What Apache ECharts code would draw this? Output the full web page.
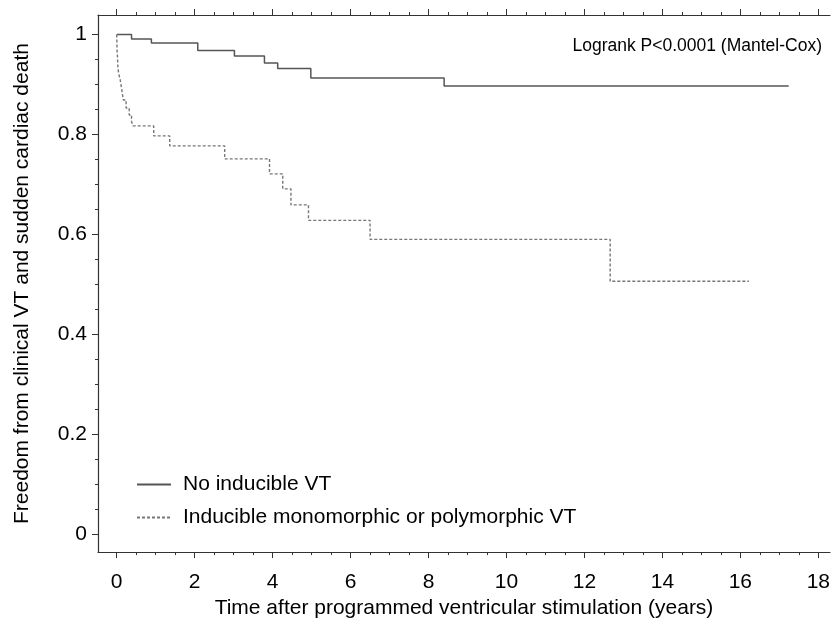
<!DOCTYPE html>
<html>
<head>
<meta charset="utf-8">
<script src="https://cdn.jsdelivr.net/npm/echarts@6/dist/echarts.min.js"></script>
<style>
html,body{margin:0;padding:0;background:#fff;}
#chart{width:833px;height:624px;}
</style>
</head>
<body>
<div id="chart"></div>
<script>
// ---- data (years, survival fraction) ----
const noInducibleTimes  = [0, 0.38, 0.89, 2.08, 3.02, 3.79, 4.13, 4.98, 8.40, 17.24];
const noInducibleValues = [1, 0.991, 0.983, 0.968, 0.957, 0.943, 0.932, 0.913, 0.897, 0.897];

const inducibleTimes  = [0, 0.01, 0.02, 0.03, 0.05, 0.09, 0.13, 0.17, 0.24, 0.32, 0.38, 0.42, 0.95, 1.36, 2.77, 3.92, 4.26, 4.47, 4.92, 6.50, 12.66, 16.22];
const inducibleValues = [1, 0.965, 0.955, 0.935, 0.922, 0.909, 0.889, 0.869, 0.853, 0.839, 0.826, 0.817, 0.797, 0.777, 0.751, 0.721, 0.691, 0.659, 0.628, 0.590, 0.506, 0.506];

const seriesNames = ['No inducible VT', 'Inducible monomorphic or polymorphic VT'];
const xTickLabels = [0, 2, 4, 6, 8, 10, 12, 14, 16, 18];
const xMinorTicks = [0,0.5,1,1.5,2,2.5,3,3.5,4,4.5,5,5.5,6,6.5,7,7.5,8,8.5,9,9.5,10,10.5,11,11.5,12,12.5,13,13.5,14,14.5,15,15.5,16,16.5,17,17.5,18];
const yTickLabels = [0, 0.2, 0.4, 0.6, 0.8, 1];
const yMinorTicks = [0,0.05,0.1,0.15,0.2,0.25,0.3,0.35,0.4,0.45,0.5,0.55,0.6,0.65,0.7,0.75,0.8,0.85,0.9,0.95,1];
const annotation = 'Logrank P<0.0001 (Mantel-Cox)';
const xTitle = 'Time after programmed ventricular stimulation (years)';
const yTitle = 'Freedom from clinical VT and sudden cardiac death';

const pairs = (t, v) => t.map((x, i) => [x, v[i]]);

const FONT = '"Liberation Sans", Arial, sans-serif';
const TXT = '#000';
const AX = '#333';
const X_MIN = -0.48, X_MAX = 18.3, Y_MIN = -0.036, Y_MAX = 1.039;

function xAx(pos, withLine, tickVals, tickLen, labels) {
  return {
    type: 'value', position: pos, min: X_MIN, max: X_MAX,
    axisLine: { show: withLine, onZero: false, lineStyle: { color: AX, width: 1.2 } },
    axisTick: { show: true, customValues: tickVals, length: tickLen, inside: false, lineStyle: { color: AX, width: 1 } },
    axisLabel: labels ? { show: true, customValues: xTickLabels, fontSize: 21, color: TXT, fontFamily: FONT, margin: 20 } : { show: false },
    splitLine: { show: false }
  };
}
function yAx(pos, withLine, tickVals, tickLen, labels) {
  return {
    type: 'value', position: pos, min: Y_MIN, max: Y_MAX,
    axisLine: { show: withLine, onZero: false, lineStyle: { color: AX, width: 1.2 } },
    axisTick: { show: true, customValues: tickVals, length: tickLen, inside: false, lineStyle: { color: AX, width: 1 } },
    axisLabel: labels ? { show: true, customValues: yTickLabels, fontSize: 21, color: TXT, fontFamily: FONT, margin: 11,
      formatter: v => String(Math.round(v * 10) / 10) } : { show: false },
    splitLine: { show: false }
  };
}

const xMain = xAx('bottom', true, xTickLabels, 6, true);
xMain.name = xTitle; xMain.nameLocation = 'middle'; xMain.nameGap = 45;
xMain.nameTextStyle = { fontSize: 21, color: TXT, fontFamily: FONT };
const yMain = yAx('left', true, yTickLabels, 6, true);
yMain.name = yTitle; yMain.nameLocation = 'middle'; yMain.nameGap = 65;
yMain.nameTextStyle = { fontSize: 21, color: TXT, fontFamily: FONT };

const chart = echarts.init(document.getElementById('chart'), null, { renderer: 'canvas' });
chart.setOption({
  backgroundColor: '#fff',
  animation: false,
  grid: { left: 98, right: 0, top: 15, bottom: 68, containLabel: false },
  xAxis: [
    xMain,
    xAx('bottom', false, xMinorTicks, 3, false),
    xAx('top', true, xTickLabels, 6, false),
    xAx('top', false, xMinorTicks, 3, false)
  ],
  yAxis: [
    yMain,
    yAx('left', false, yMinorTicks, 3, false)
  ],
  legend: {
    orient: 'vertical', left: 131, top: 469, itemGap: 12,
    itemWidth: 34, itemHeight: 14,
    itemStyle: { opacity: 0 },
    textStyle: { fontSize: 21, color: TXT, fontFamily: FONT, padding: [0, 0, 0, 7] },
    data: seriesNames
  },
  graphic: [{
    type: 'text', right: 11, top: 37,
    style: { text: annotation, font: '17.5px ' + FONT, fill: TXT }
  }],
  series: [
    {
      name: seriesNames[0], type: 'line', step: 'end', symbol: 'none',
      xAxisIndex: 0, yAxisIndex: 0,
      lineStyle: { color: '#555', width: 1.5, type: 'solid' },
      itemStyle: { color: '#555' },
      data: pairs(noInducibleTimes, noInducibleValues)
    },
    {
      name: seriesNames[1], type: 'line', step: 'end', symbol: 'none',
      xAxisIndex: 0, yAxisIndex: 0,
      lineStyle: { color: '#777', width: 1.4, type: [3, 2] },
      itemStyle: { color: '#777' },
      data: pairs(inducibleTimes, inducibleValues)
    }
  ]
});
</script>
</body>
</html>
